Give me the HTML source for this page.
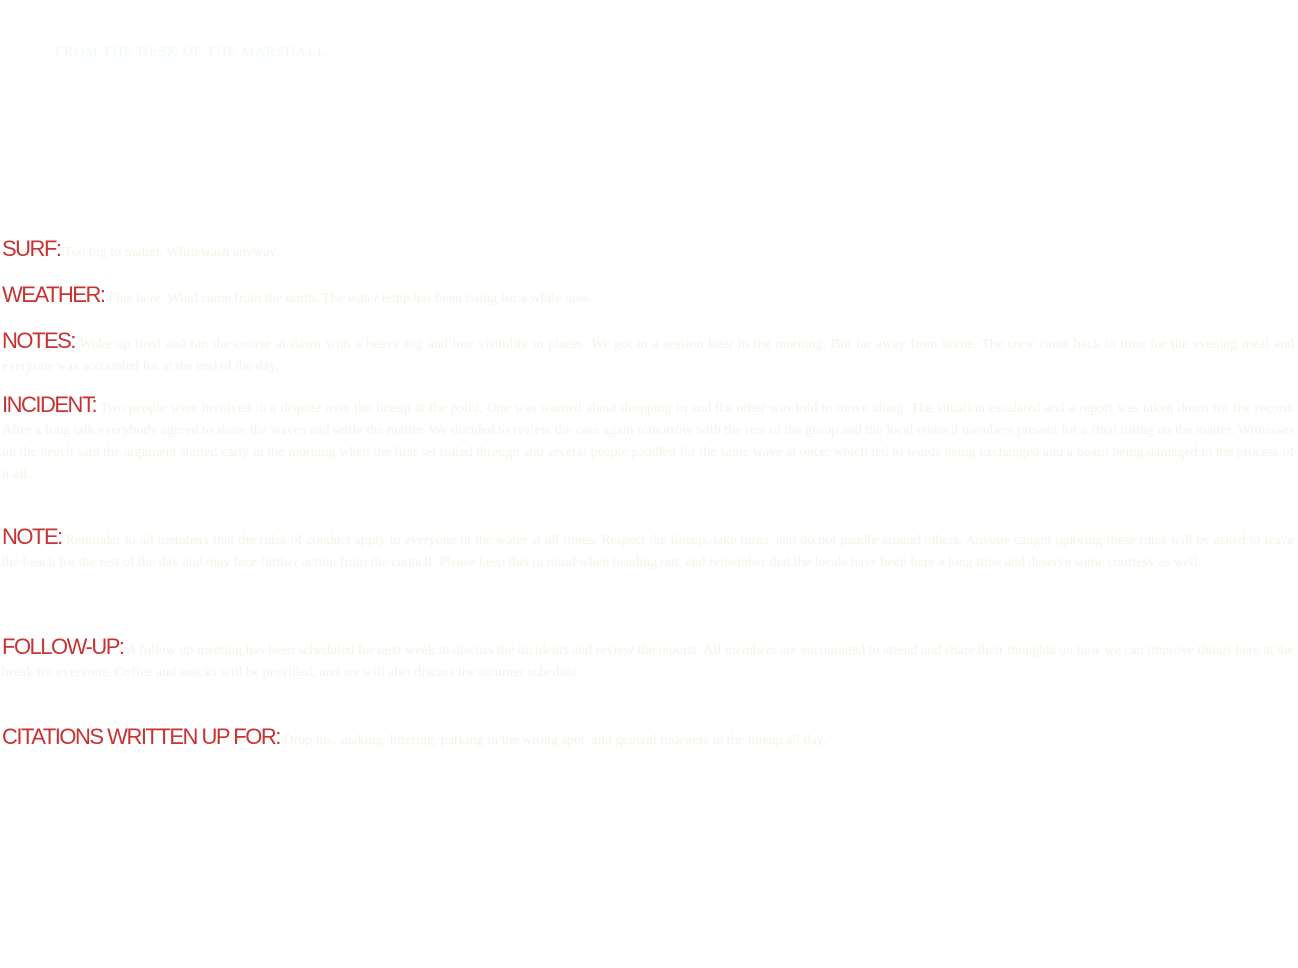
<!DOCTYPE html>
<html><head><meta charset="utf-8"><style>
body{margin:0;width:1298px;height:968px;background:#fff;overflow:hidden;font-family:"Liberation Serif",serif;}
.t{position:absolute;left:55px;top:45px;font-size:14px;color:#eefaf4;letter-spacing:1px}
.p{position:absolute;left:2px;width:1292px;font-size:14px;line-height:22px;color:#f1f6e8;text-align:justify}
.l{color:#c83232;font-family:"Liberation Sans Narrow","Liberation Sans",sans-serif;font-size:22px;letter-spacing:-1.5px;}
</style></head><body>
<div class="t">FROM THE DESK OF THE MARSHALL</div>
<div class="p" style="top:238px"><span class="l">SURF:</span> Too big to matter. Whitewash anyway.</div>
<div class="p" style="top:284px"><span class="l">WEATHER:</span> Fine here. Wind came from the north. The water temp has been rising for a while now.</div>
<div class="p" style="top:330px"><span class="l">NOTES:</span> Woke up tired and ran the course at dawn with a heavy fog and low visibility in places. We got in a session later in the morning. But far away from home. The crew came back in time for the evening meal and everyone was accounted for at the end of the day.</div>
<div class="p" style="top:394px"><span class="l">INCIDENT:</span> Two people were involved in a dispute over the lineup at the point. One was warned about dropping in and the other was told to move along. The situation escalated and a report was taken down for the record. After a long talk everybody agreed to share the waves and settle the matter. We decided to review the case again tomorrow with the rest of the group and the local council members present for a final ruling on the matter. Witnesses on the beach said the argument started early in the morning when the first set rolled through and several people paddled for the same wave at once, which led to words being exchanged and a board being damaged in the process of it all.</div>
<div class="p" style="top:526px"><span class="l">NOTE:</span> Reminder to all members that the rules of conduct apply to everyone in the water at all times. Respect the lineup, take turns, and do not paddle around others. Anyone caught ignoring these rules will be asked to leave the beach for the rest of the day and may face further action from the council. Please keep this in mind when heading out, and remember that the locals have been here a long time and deserve some courtesy as well.</div>
<div class="p" style="top:636px"><span class="l">FOLLOW-UP:</span> A follow up meeting has been scheduled for next week to discuss the incidents and review the reports. All members are encouraged to attend and share their thoughts on how we can improve things here at the break for everyone. Coffee and snacks will be provided, and we will also discuss the summer schedule.</div>
<div class="p" style="top:726px"><span class="l">CITATIONS WRITTEN UP FOR:</span> Drop ins, snaking, littering, parking in the wrong spot, and general rudeness in the lineup all day.</div>
</body></html>
